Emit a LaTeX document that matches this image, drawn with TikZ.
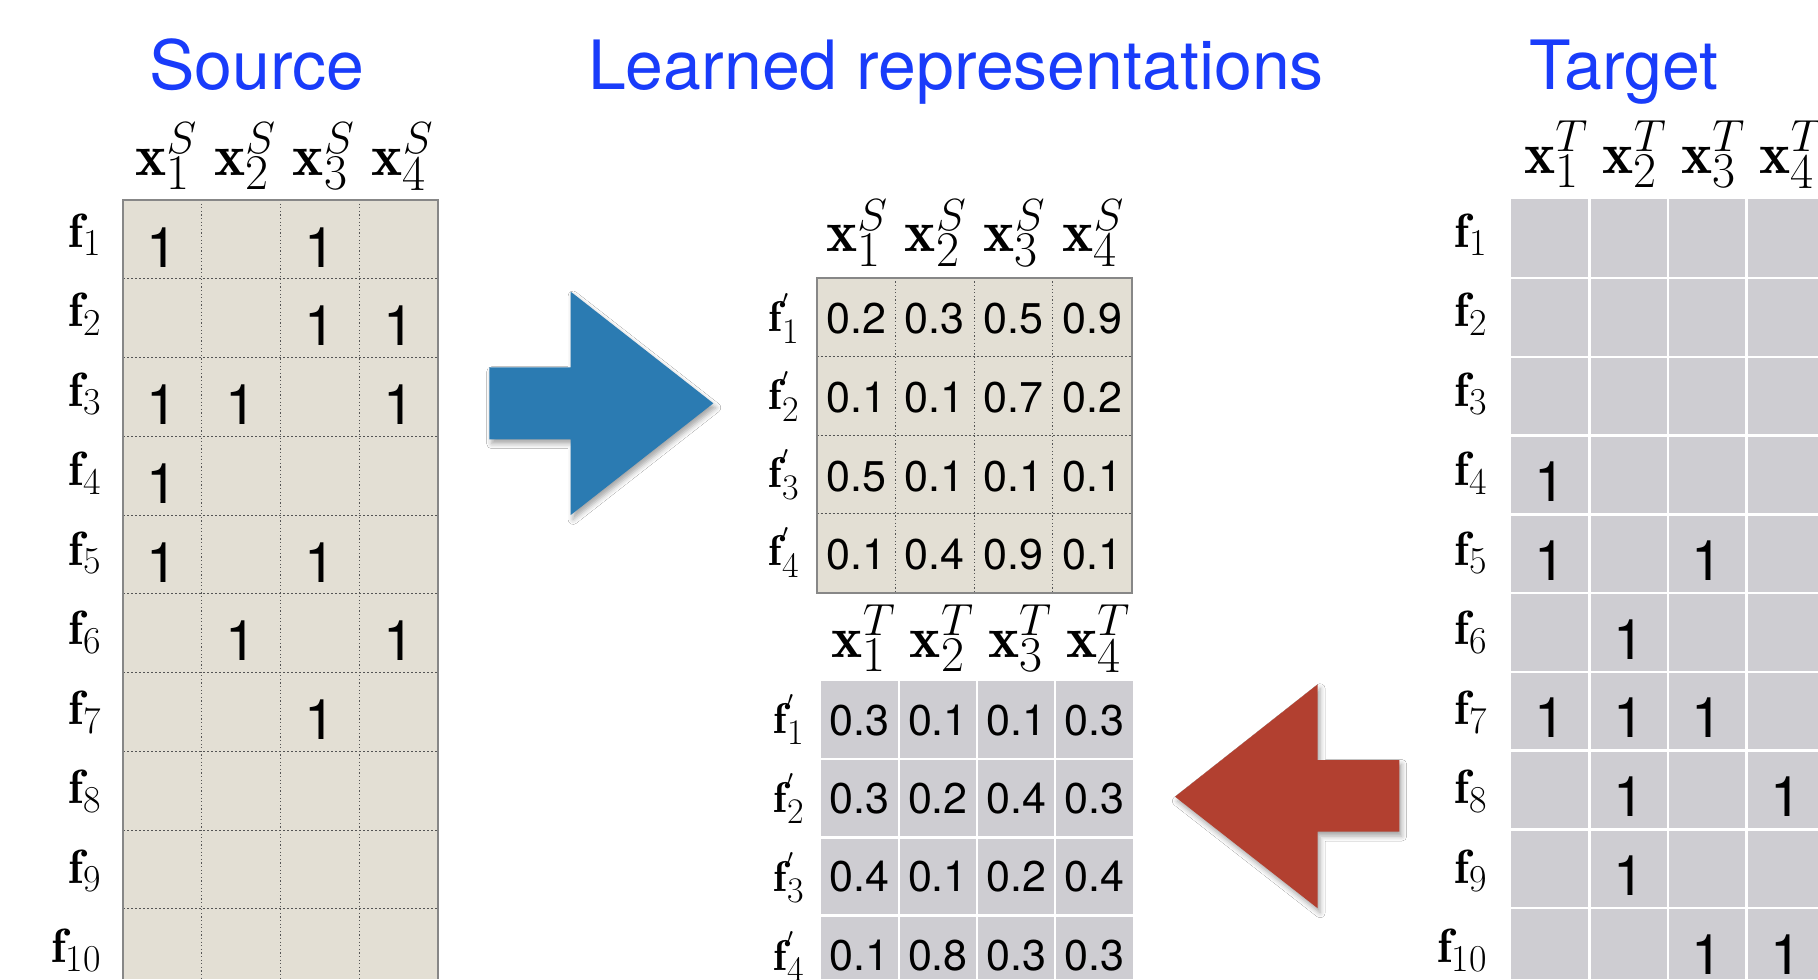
\RequirePackage{fix-cm}
\documentclass[tikz,border=0pt]{standalone}
\usepackage{fontspec}
\newfontfamily\hv{TeX Gyre Heros}
\usetikzlibrary{shadows.blur}
\newcommand{\hsz}[2]{\hbox{\fontsize{#1}{#1}\selectfont #2}}
\newcommand{\xlab}[2]{$\mathbf{x}^{\hsz{22.5}{$#2$}}_{\hsz{25}{#1}}$}
\newcommand{\flab}[1]{$\mathbf{f}_{\hsz{19}{#1}}$}
\newcommand{\fplab}[1]{$\mathbf{f}^{'}_{\hsz{18}{#1}}$}
\definecolor{beigefill}{RGB}{227,223,212}
\definecolor{grayfill}{RGB}{206,205,210}
\definecolor{arrowblue}{RGB}{43,123,178}
\definecolor{arrowred}{RGB}{178,64,48}
\definecolor{titleblue}{RGB}{25,60,250}
\definecolor{gridline}{RGB}{85,85,85}
\definecolor{borderline}{RGB}{135,135,135}
\tikzset{
  titletext/.style={text=titleblue, font=\hv\fontsize{34}{40}\selectfont, anchor=base, inner sep=0},
  hdr/.style={font=\fontsize{29.5}{32}\selectfont, anchor=base, inner sep=0},
  rlab/.style={font=\fontsize{24}{28}\selectfont, anchor=base east, inner sep=0},
  plab/.style={font=\fontsize{21.5}{24}\selectfont, anchor=base east, inner sep=0},
  onetext/.style={font=\hv\fontsize{28}{30}\selectfont, anchor=base, inner sep=0},
  valtext/.style={font=\hv\fontsize{21.5}{24}\selectfont, anchor=base, inner sep=0},
  vdot/.style={gridline, line width=0.5pt, dash pattern=on 0.6pt off 1.2pt},
  hdash/.style={gridline, line width=0.5pt, dash pattern=on 1.2pt off 0.8pt},
  whiteline/.style={white, line width=1.2pt},
  bigarrow/.style={draw=none, blur shadow={shadow xshift=1.2pt, shadow yshift=-2.2pt, shadow blur radius=2.5pt, shadow opacity=35}}
}
\begin{document}
\begin{tikzpicture}[x=0.5pt,y=-0.5pt]
\useasboundingbox[fill=white] (0,0) rectangle (1818,979);

% titles
\node[titletext] (tsrc) at (257,89.5) {Source};
\node[titletext] (tlrn) at (956,89.5) {Learned representations};
\node[titletext] (ttgt) at (1624,89.5) {Target};

% ---------- Source grid ----------
\fill[beigefill] (123,200) rectangle (438,979);
\foreach \k in {1,2,3} \draw[vdot] ({123+78.75*\k},200) -- ({123+78.75*\k},979);
\foreach \k in {1,...,9} \draw[hdash] (123,{200+78.75*\k}) -- (438,{200+78.75*\k});
\draw[borderline, line width=0.8pt] (123,979) -- (123,200) -- (438,200) -- (438,979);
\foreach \k in {1,...,4}
  \node[hdr] (sh\k) at ({123+78.75*(\k-0.5)+4},175) {\xlab{\k}{S}};
\foreach \r in {1,...,10}
  \node[rlab] (sl\r) at (102,{247+79.5*(\r-1)}) {\flab{\r}};
\foreach \r/\c in {1/1,1/3,2/3,2/4,3/1,3/2,3/4,4/1,5/1,5/3,6/2,6/4,7/3}
  \node[onetext] (s\r-\c) at ({123+78.75*(\c-0.5)},{200+78.75*(\r-1)+67}) {1};

% ---------- Target grid ----------
\fill[grayfill] (1511,199.3) rectangle (1818,979);
\foreach \k in {1,2,3,4} \draw[whiteline] ({1511+78.5*\k},199.3) -- ({1511+78.5*\k},979);
\foreach \k in {1,...,9} \draw[whiteline] (1511,{199.3+78.75*\k}) -- (1818,{199.3+78.75*\k});
\foreach \k in {1,...,4}
  \node[hdr] (th\k) at ({1511+78.5*(\k-0.5)+6},173) {\xlab{\k}{T}};
\foreach \r in {1,...,10}
  \node[rlab] (tl\r) at (1488,{247+79.5*(\r-1)}) {\flab{\r}};
\foreach \r/\c in {4/1,5/1,5/3,6/2,7/1,7/2,7/3,8/2,8/4,9/2,10/3,10/4}
  \node[onetext] (t\r-\c) at ({1511+78.5*(\c-0.5)},{199.3+78.75*(\r-1)+66}) {1};

% ---------- Learned (source) ----------
\fill[beigefill] (816.7,277.7) rectangle (1131.7,592.7);
\foreach \k in {1,2,3} \draw[vdot] ({816.7+78.75*\k},277.7) -- ({816.7+78.75*\k},592.7);
\foreach \k in {1,2,3} \draw[hdash] (816.7,{277.7+78.75*\k}) -- (1131.7,{277.7+78.75*\k});
\draw[borderline, line width=0.8pt] (816.7,277.7) rectangle (1131.7,592.7);
\foreach \k in {1,...,4}
  \node[hdr] (mh\k) at ({816.7+78.75*(\k-0.5)+1},251.7) {\xlab{\k}{S}};
\foreach \r in {1,...,4}
  \node[plab] (ml\r) at (800,{331.7+78*(\r-1)}) {\fplab{\r}};
\foreach \r/\vals in {1/{0.2,0.3,0.5,0.9},2/{0.1,0.1,0.7,0.2},3/{0.5,0.1,0.1,0.1},4/{0.1,0.4,0.9,0.1}}
  \foreach \v [count=\q] in \vals
    \node[valtext] (m\r-\q) at ({816.7+78.75*(\q-0.5)},{277.7+78.75*(\r-1)+56}) {\v};

% ---------- Learned (target) ----------
\fill[grayfill] (820.7,680.7) rectangle (1133.3,979);
\foreach \k in {1,2,3} \draw[whiteline] ({820.7+78.15*\k},680.7) -- ({820.7+78.15*\k},979);
\foreach \k in {1,2,3} \draw[whiteline] (820.7,{680.7+78.3*\k}) -- (1133.3,{680.7+78.3*\k});
\foreach \k in {1,...,4}
  \node[hdr] (nh\k) at ({820.7+78.15*(\k-0.5)+4},657) {\xlab{\k}{T}};
\foreach \r in {1,...,4}
  \node[plab] (nl\r) at (805,{733.3+79*(\r-1)}) {\fplab{\r}};
\foreach \r/\vals in {1/{0.3,0.1,0.1,0.3},2/{0.3,0.2,0.4,0.3},3/{0.4,0.1,0.2,0.4},4/{0.1,0.8,0.3,0.3}}
  \foreach \v [count=\q] in \vals
    \node[valtext] (n\r-\q) at ({820.7+78.15*(\q-0.5)},{680.7+78.3*(\r-1)+54.5}) {\v};

% ---------- arrows ----------
\fill[arrowblue, bigarrow] (489.3,367.3) -- (570.7,367.3) -- (570.7,291.7) -- (713.3,403.3)
  -- (570.7,515) -- (570.7,439.3) -- (489.3,439.3) -- cycle;
\fill[arrowred, bigarrow] (1399.3,760) -- (1317.7,760) -- (1317.7,684.3) -- (1175,796.7)
  -- (1317.7,908.3) -- (1317.7,831.7) -- (1399.3,831.7) -- cycle;
\end{tikzpicture}
\end{document}
